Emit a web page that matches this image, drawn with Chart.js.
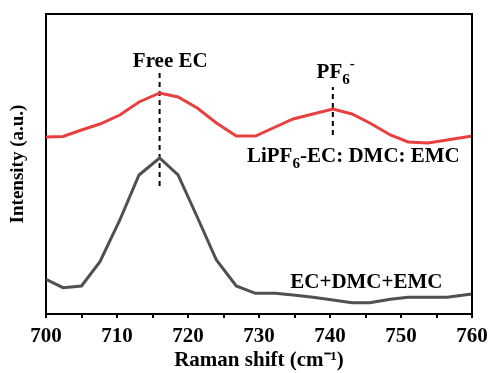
<!DOCTYPE html>
<html>
<head>
<meta charset="utf-8">
<script src="https://cdn.jsdelivr.net/npm/chart.js@4/dist/chart.umd.min.js"></script>
<style>
  html, body { margin: 0; padding: 0; background: #fff; }
  #wrap { width: 492px; height: 373px; }
</style>
</head>
<body>
<div id="wrap"><canvas id="raman" width="492" height="373"></canvas></div>
<script>
// Raman spectra (intensity in arbitrary units)
const ramanShift = [700, 702.4, 705, 707.6, 710.4, 713.1, 716, 718.6, 721.3, 724, 726.8, 729.5,
    732.3, 734.8, 737.6, 740.4, 743.1, 745.6, 748.5, 751, 753.8, 756.5, 760];
const lipf6Solution = [177, 177.5, 184, 190, 199, 212, 221, 217, 206, 191, 178, 178,
    187, 195, 200, 205, 200, 191, 179, 172, 171, 174, 178];
const solventOnly = [34.7, 26.3, 28, 52.3, 94, 139, 156, 139, 97, 54, 28, 20.7,
    20.7, 19, 16.7, 14, 11.3, 11.3, 14.7, 16.7, 16.7, 16.7, 20];
const xTicks = [700, 710, 720, 730, 740, 750, 760];

// peak markers: position and vertical extent of the dashed guides
const freeEcMark = { x: 716, y: [128, 244] };
const pf6Mark = { x: 740.4, y: [179, 227] };

const FONT = '"Liberation Serif", "Times New Roman", serif';
const toPoints = (xs, ys) => xs.map((x, i) => ({ x: x, y: ys[i] }));

// draws text made of runs, each run may be normal, sub or sup
function drawRuns(ctx, runs, x, y, size, align) {
    const pieces = runs.map(r => {
        const s = r.sub || r.sup ? size * 0.72 : size;
        ctx.font = 'bold ' + s + 'px ' + FONT;
        return { t: r.t, s: s, w: ctx.measureText(r.t).width, dy: r.sub ? size * 0.3 : (r.sup ? -size * 0.45 : 0) };
    });
    const total = pieces.reduce((a, p) => a + p.w, 0);
    let cx = align === 'center' ? x - total / 2 : x;
    ctx.fillStyle = '#000';
    ctx.textBaseline = 'alphabetic';
    ctx.textAlign = 'left';
    pieces.forEach(p => {
        ctx.font = 'bold ' + p.s + 'px ' + FONT;
        ctx.fillText(p.t, cx, y + p.dy);
        cx += p.w;
    });
}

const labelPlugin = {
    id: 'labels',
    afterDraw(chart) {
        const ctx = chart.ctx;
        const xs = chart.scales.x, ys = chart.scales.y;
        const a = chart.chartArea;
        ctx.save();
        // top and right edges of the frame
        ctx.setLineDash([]);
        ctx.strokeStyle = '#000';
        ctx.lineWidth = 2;
        ctx.beginPath();
        ctx.moveTo(a.left, a.top);
        ctx.lineTo(a.right, a.top);
        ctx.lineTo(a.right, a.bottom);
        ctx.stroke();

        drawRuns(ctx, [{ t: 'Free EC' }], xs.getPixelForValue(717.5), ys.getPixelForValue(247), 21, 'center');
        drawRuns(ctx, [{ t: 'PF' }, { t: '6', sub: true }, { t: '-', sup: true }],
            xs.getPixelForValue(740.8), ys.getPixelForValue(236.5), 21, 'center');
        drawRuns(ctx, [{ t: 'LiPF' }, { t: '6', sub: true }, { t: '-EC: DMC: EMC' }],
            xs.getPixelForValue(728.3), ys.getPixelForValue(152.5), 21, 'left');
        drawRuns(ctx, [{ t: 'EC+DMC+EMC' }], xs.getPixelForValue(734.4), ys.getPixelForValue(26), 21, 'left');
        ctx.restore();
    }
};

new Chart(document.getElementById('raman').getContext('2d'), {
    type: 'line',
    data: {
        datasets: [
            {
                label: 'LiPF6-EC: DMC: EMC',
                data: toPoints(ramanShift, lipf6Solution),
                borderColor: '#e8403f',
                borderWidth: 3,
                pointRadius: 0,
                tension: 0
            },
            {
                label: 'EC+DMC+EMC',
                data: toPoints(ramanShift, solventOnly),
                borderColor: '#505050',
                borderWidth: 3,
                pointRadius: 0,
                tension: 0
            },
            {
                label: 'Free EC',
                data: freeEcMark.y.map(y => ({ x: freeEcMark.x, y: y })),
                borderColor: '#000',
                borderWidth: 2,
                borderDash: [5, 4],
                pointRadius: 0
            },
            {
                label: 'PF6-',
                data: pf6Mark.y.map(y => ({ x: pf6Mark.x, y: y })),
                borderColor: '#000',
                borderWidth: 2,
                borderDash: [5, 4],
                pointRadius: 0
            }
        ]
    },
    options: {
        responsive: false,
        animation: false,
        layout: { padding: { top: 14, right: 20, left: 0, bottom: 0 } },
        plugins: {
            legend: { display: false },
            tooltip: { enabled: false }
        },
        scales: {
            x: {
                type: 'linear',
                min: 700,
                max: 760,
                afterFit: s => {
                    s.height = 59;
                    s.paddingLeft = 0;
                    s.paddingRight = 0;
                },
                afterBuildTicks: s => {
                    s.ticks = [];
                    for (let v = 700; v <= 760; v += 5) s.ticks.push({ value: v });
                },
                ticks: {
                    color: '#000',
                    padding: 6,
                    maxRotation: 0,
                    autoSkip: false,
                    font: { family: FONT, size: 21, weight: 'bold' },
                    callback: v => xTicks.includes(v) ? String(v) : ''
                },
                grid: { drawOnChartArea: false, drawTicks: true, tickLength: 4, color: '#000', lineWidth: 2 },
                border: { color: '#000', width: 2 },
                title: {
                    display: true,
                    text: 'Raman shift (cm\u207B\u00B9)',
                    color: '#000',
                    padding: { top: 0, bottom: 0 },
                    font: { family: FONT, size: 21, weight: 'bold' }
                }
            },
            y: {
                min: 0,
                max: 300,
                afterFit: s => { s.width = 46; },
                ticks: { display: false },
                grid: { display: false },
                border: { color: '#000', width: 2 },
                title: {
                    display: true,
                    text: 'Intensity (a.u.)',
                    color: '#000',
                    padding: { top: 7, bottom: 0 },
                    font: { family: FONT, size: 19, weight: 'bold' }
                }
            }
        }
    },
    plugins: [labelPlugin]
});
</script>
</body>
</html>
